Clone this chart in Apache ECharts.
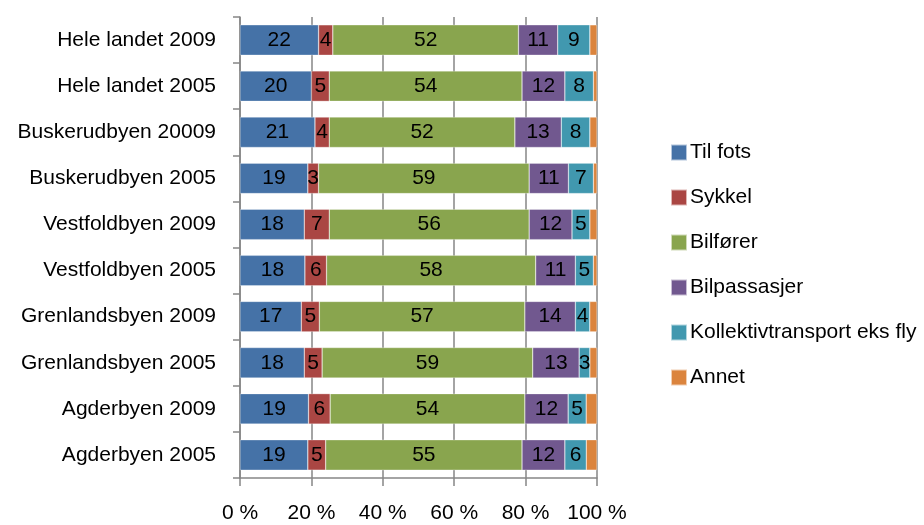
<!DOCTYPE html>
<html>
<head>
<meta charset="utf-8">
<script src="https://cdn.jsdelivr.net/npm/echarts@6/dist/echarts.min.js"></script>
<style>
html,body{margin:0;padding:0;background:#fff;}
#chart{width:924px;height:525px;}
</style>
</head>
<body>
<div id="chart"></div>
<script>
const categories = ['Hele landet 2009','Hele landet 2005','Buskerudbyen 20009','Buskerudbyen 2005','Vestfoldbyen 2009','Vestfoldbyen 2005','Grenlandsbyen 2009','Grenlandsbyen 2005','Agderbyen 2009','Agderbyen 2005'];
const tilFots     = [22,20,21,19,18,18,17,18,19,19];
const sykkel      = [4,5,4,3,7,6,5,5,6,5];
const bilforer    = [52,54,52,59,56,58,57,59,54,55];
const bilpass     = [11,12,13,11,12,11,14,13,12,12];
const kollektiv   = [9,8,8,7,5,5,4,3,5,6];
const annet       = [2,1,2,1,2,1,2,2,3,3];
const xTicks = [0,20,40,60,80,100];

const seriesDefs = [
  {name:'Til fots', data:tilFots, color:'#4572A7', label:true},
  {name:'Sykkel', data:sykkel, color:'#AA4643', label:true},
  {name:'Bilfører', data:bilforer, color:'#89A54E', label:true},
  {name:'Bilpassasjer', data:bilpass, color:'#71588F', label:true},
  {name:'Kollektivtransport eks fly', data:kollektiv, color:'#4198AF', label:true},
  {name:'Annet', data:annet, color:'#DB843D', label:false}
];
// 100% stacked: each row is shown as its share of the row total
const totals = categories.map((c,i)=>seriesDefs.reduce((s,d)=>s+d.data[i],0));

const FONT = '"Liberation Sans", Arial, sans-serif';
const chart = echarts.init(document.getElementById('chart'), null, {renderer:'canvas'});
chart.setOption({
  animation:false,
  textStyle:{fontFamily:FONT},
  grid:{left:240, right:327, top:17, bottom:47, containLabel:false},
  legend:{
    orient:'vertical', left:665, top:137,
    itemWidth:16, itemHeight:16, itemGap:24,
    icon:'rect',
    textStyle:{fontFamily:FONT, fontSize:21, color:'#000', lineHeight:21, padding:[0,0,0,-2]},
    data: seriesDefs.map(d=>d.name)
  },
  xAxis:{
    type:'value', min:xTicks[0], max:xTicks[xTicks.length-1], interval:xTicks[1]-xTicks[0],
    axisLine:{show:true, lineStyle:{color:'#868686', width:1.5}},
    axisTick:{show:true, length:8, lineStyle:{color:'#868686', width:1.5}},
    splitLine:{show:true, lineStyle:{color:'#868686', width:1.5}},
    axisLabel:{fontFamily:FONT, fontSize:21, color:'#000', margin:25, formatter:v=>v+' %'}
  },
  yAxis:{
    type:'category', inverse:true, data:categories,
    axisLine:{show:true, lineStyle:{color:'#868686', width:1.5}},
    axisTick:{show:true, length:7, lineStyle:{color:'#868686', width:1.5}},
    axisLabel:{fontFamily:FONT, fontSize:21, color:'#000', margin:24, interval:0}
  },
  series: seriesDefs.map(d=>({
    name:d.name, type:'bar', stack:'total', barCategoryGap:'34%',
    itemStyle:{color:d.color, borderColor:'rgba(255,255,255,0.6)', borderWidth:0.5},
    data: d.data.map((v,i)=>v/totals[i]*100),
    label:{
      show:d.label, position:'inside', color:'#000', fontFamily:FONT, fontSize:21,
      formatter:p=>String(d.data[p.dataIndex])
    }
  }))
});
</script>
</body>
</html>
